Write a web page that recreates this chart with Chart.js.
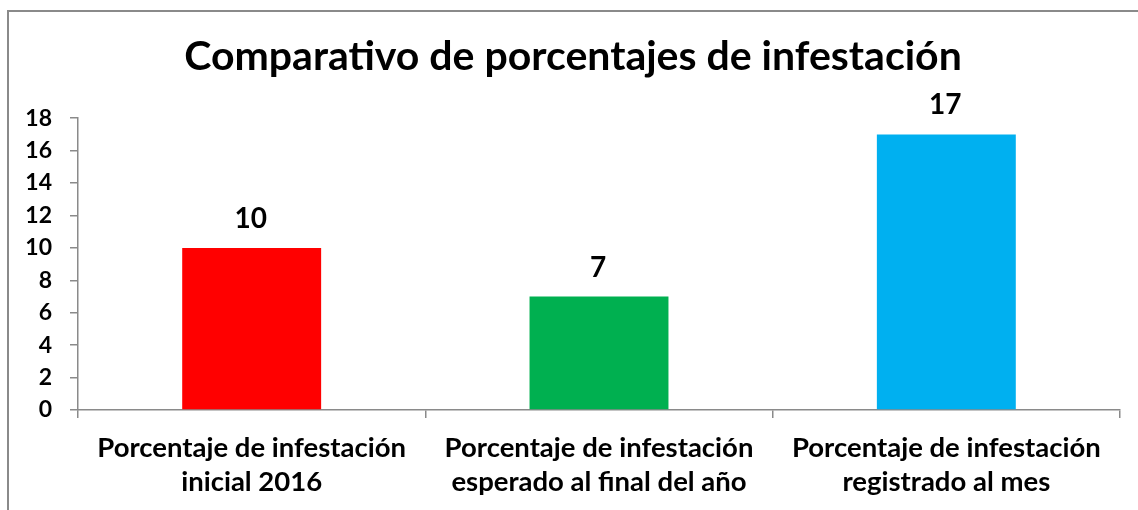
<!DOCTYPE html>
<html>
<head>
<meta charset="utf-8">
<script src="https://cdn.jsdelivr.net/npm/chart.js@4"></script>
<style>
  html, body { margin: 0; padding: 0; background: #ffffff; }
  #wrap { position: relative; width: 1138px; height: 510px; overflow: hidden; }
  canvas { display: block; }
</style>
</head>
<body>
<div id="wrap"><canvas id="c" width="1138" height="510"></canvas></div>
<script>
const chartTitle = 'Comparativo de porcentajes de infestación';
const categories = [
  ['Porcentaje de infestación', 'inicial 2016'],
  ['Porcentaje de infestación', 'esperado al final del año'],
  ['Porcentaje de infestación', 'registrado al mes']
];
const values = [10, 7, 17];
const barColors = ['#FF0000', '#00B050', '#00B0F0'];
const yMin = 0;
const yMax = 18;
const yStep = 2;

const FONT = 'Lato, "Open Sans", sans-serif';
const GRAY = '#8a8a8a';

const framePlugin = {
  id: 'frame',
  beforeDraw(chart) {
    const ctx = chart.ctx;
    ctx.save();
    ctx.strokeStyle = GRAY;
    ctx.lineWidth = 2;
    ctx.beginPath();
    ctx.moveTo(8, 600);
    ctx.lineTo(8, 11);
    ctx.lineTo(1200, 11);
    ctx.stroke();
    ctx.restore();
  }
};

const valueLabels = {
  id: 'valueLabels',
  afterDatasetsDraw(chart) {
    const ctx = chart.ctx;
    const meta = chart.getDatasetMeta(0);
    ctx.save();
    ctx.font = 'bold 28px ' + FONT;
    ctx.fillStyle = '#000000';
    ctx.textAlign = 'center';
    ctx.textBaseline = 'alphabetic';
    meta.data.forEach((bar, i) => {
      ctx.fillText(String(chart.data.datasets[0].data[i]), bar.x - 1, bar.y - 20);
    });
    ctx.restore();
  }
};

new Chart(document.getElementById('c'), {
  type: 'bar',
  data: {
    labels: categories,
    datasets: [{
      data: values,
      backgroundColor: barColors,
      borderWidth: 0,
      categoryPercentage: 1.0,
      barPercentage: 0.4
    }]
  },
  options: {
    responsive: false,
    animation: false,
    devicePixelRatio: 1,
    layout: { padding: { left: 26, right: 18, top: 0, bottom: 0 } },
    plugins: {
      legend: { display: false },
      tooltip: { enabled: false },
      title: {
        display: true,
        text: chartTitle,
        color: '#000000',
        font: { family: FONT, size: 41, weight: 'bold', lineHeight: 1.2 },
        padding: { top: 32, bottom: 37 }
      }
    },
    scales: {
      x: {
        offset: true,
        grid: { offset: true, drawOnChartArea: false, drawTicks: true, tickLength: 8, color: GRAY, lineWidth: 1.5 },
        border: { display: true, color: GRAY, width: 1.5 },
        ticks: {
          color: '#000000',
          font: { family: FONT, size: 27.5, weight: 'bold', lineHeight: 1.24 },
          padding: 13,
          maxRotation: 0,
          autoSkip: false
        },
        afterFit(scale) { scale.height = 100; }
      },
      y: {
        min: yMin,
        max: yMax,
        grid: { drawOnChartArea: false, drawTicks: true, tickLength: 8, color: GRAY, lineWidth: 1.5 },
        border: { display: true, color: GRAY, width: 1.5 },
        ticks: {
          stepSize: yStep,
          color: '#000000',
          font: { family: FONT, size: 23, weight: 'bold' },
          padding: 18
        },
        afterFit(scale) { scale.width = 52; }
      }
    }
  },
  plugins: [framePlugin, valueLabels]
});
</script>
</body>
</html>
